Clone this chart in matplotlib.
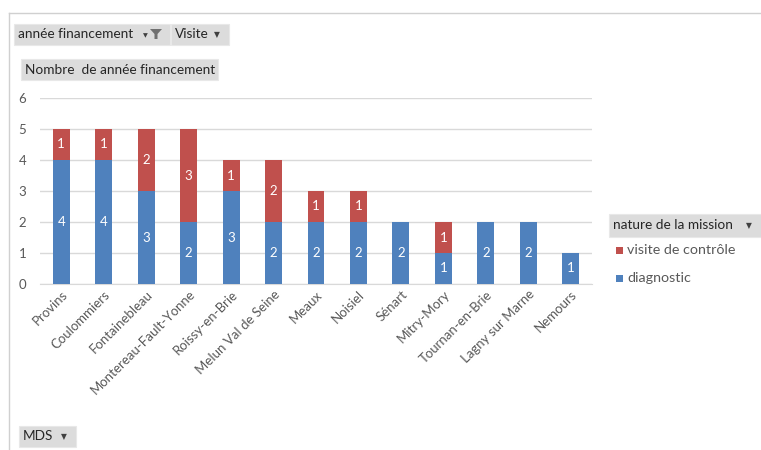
import matplotlib
matplotlib.use("Agg")
import matplotlib.pyplot as plt
from matplotlib.patches import Rectangle, Polygon

plt.rcParams['font.family'] = ['Lato', 'DejaVu Sans']

categories = ["Provins", "Coulommiers", "Fontainebleau", "Montereau-Fault-Yonne",
              "Roissy-en-Brie", "Melun Val de Seine", "Meaux", "Noisiel", "Sénart",
              "Mitry-Mory", "Tournan-en-Brie", "Lagny sur Marne", "Nemours"]
diagnostic = [4, 4, 3, 2, 3, 2, 2, 2, 2, 1, 2, 2, 1]
visite_controle = [1, 1, 2, 3, 1, 2, 1, 1, 0, 1, 0, 0, 0]
y_ticks = [0, 1, 2, 3, 4, 5, 6]

BLUE = "#4F81BD"
RED = "#C0504D"
GRID = "#D9D9D9"
TEXT = "#595959"

W, H = 761, 450
fig = plt.figure(figsize=(W / 100, H / 100), dpi=100)
fig.patch.set_facecolor("white")

def fx(px):
    return px / W

def fy(py):
    return 1 - py / H

# outer chart frame
fig.add_artist(plt.Line2D([fx(9), fx(761)], [fy(13), fy(13)], color="#D0D0D0", lw=1))
fig.add_artist(plt.Line2D([fx(9), fx(9)], [fy(13), fy(450)], color="#D0D0D0", lw=1))

ax = fig.add_axes([fx(40), fy(284), fx(592) - fx(40), fy(98) - fy(284)])
x = list(range(len(categories)))
width = 0.4
ax.bar(x, diagnostic, width, color=BLUE, zorder=3)
ax.bar(x, visite_controle, width, bottom=diagnostic, color=RED, zorder=3)

for i in x:
    d = diagnostic[i]
    v = visite_controle[i]
    if d:
        ax.text(i, d / 2, str(d), ha="center", va="center", color="white", fontsize=9.5, zorder=4)
    if v:
        ax.text(i, d + v / 2, str(v), ha="center", va="center", color="white", fontsize=9.5, zorder=4)

ax.set_xlim(-0.5, len(categories) - 0.5)
ax.set_ylim(0, 6)
ax.set_yticks(y_ticks)
ax.set_yticklabels([str(t) for t in y_ticks], color=TEXT, fontsize=9.5)
ax.yaxis.grid(True, color=GRID, lw=1, zorder=0)
ax.set_axisbelow(True)
ax.tick_params(axis="y", length=0, pad=10)
ax.tick_params(axis="x", length=0, pad=3)
ax.set_xticks(x)
ax.set_xticklabels(categories, rotation=45, ha="right", rotation_mode="anchor",
                   color=TEXT, fontsize=9.5)
for s in ["top", "right", "left"]:
    ax.spines[s].set_visible(False)
ax.spines["bottom"].set_color(GRID)

# field buttons
def button(x0, y0, x1, y1, label, arrow=False):
    fig.add_artist(Rectangle((fx(x0), fy(y1)), fx(x1) - fx(x0), fy(y0) - fy(y1),
                             facecolor="#DCDCDC", edgecolor="#E8E8E8", lw=0.8))
    fig.text(fx(x0 + 4), fy((y0 + y1) / 2), label, ha="left", va="center",
             fontsize=9.8, color="#262626")
    if arrow:
        fig.text(fx(x1 - 12), fy((y0 + y1) / 2), "▼", ha="center", va="center",
                 fontsize=5.5, color="#404040", family="DejaVu Sans")

button(14, 24, 170, 45, "année financement")
# sort arrow and filter funnel on the first field button
fig.text(fx(145), fy(36), "▼", ha="center", va="center", fontsize=4.5, color="#404040", family="DejaVu Sans")
fig.add_artist(Polygon([(fx(150), fy(29)), (fx(162), fy(29)), (fx(157.5), fy(34)),
                        (fx(157.5), fy(39)), (fx(154.5), fy(39)), (fx(154.5), fy(34))],
                       closed=True, facecolor="#707070", edgecolor="none"))
button(171, 24, 229, 45, "Visite", arrow=True)
button(21, 59, 218, 80, "Nombre  de année financement")
button(609, 214, 761, 237, "nature de la mission", arrow=True)
button(19, 426, 76, 447, "MDS", arrow=True)

# legend
fig.add_artist(Rectangle((fx(616), fy(254)), fx(7), fy(247) - fy(254), facecolor=RED, lw=0))
fig.text(fx(627), fy(250), "visite de contrôle", ha="left", va="center", fontsize=10.3, color=TEXT)
fig.add_artist(Rectangle((fx(616), fy(282)), fx(7), fy(275) - fy(282), facecolor=BLUE, lw=0))
fig.text(fx(627), fy(278), "diagnostic", ha="left", va="center", fontsize=10.3, color=TEXT)

fig.savefig("out.png", dpi=100, facecolor="white")
